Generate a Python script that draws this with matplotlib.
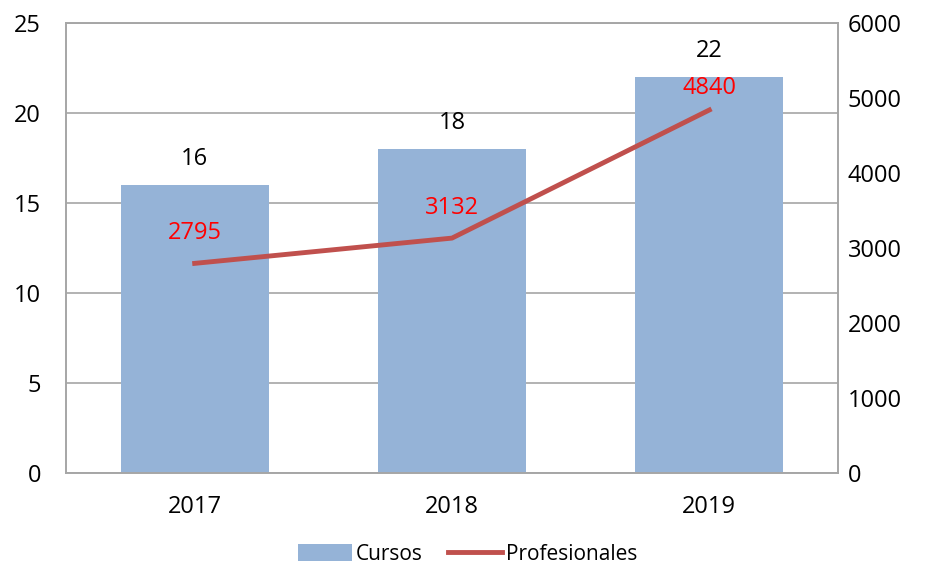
import matplotlib
matplotlib.use("Agg")
import matplotlib.pyplot as plt
import numpy as np
from matplotlib.lines import Line2D
from matplotlib.patches import Patch

years = ["2017", "2018", "2019"]
cursos = [16, 18, 22]
profesionales = [2795, 3132, 4840]

plt.rcParams["font.family"] = ["Open Sans", "DejaVu Sans"]

fig = plt.figure(figsize=(9.35, 5.71), dpi=100)
ax = fig.add_axes([66 / 935, 1 - 473 / 571, (838 - 66) / 935, (473 - 23) / 571])
ax2 = ax.twinx()

x = np.arange(len(years))
bar_color = "#95B3D7"
line_color = "#C0504D"
grid_color = "#A6A6A6"

ax.bar(x, cursos, width=0.575, color=bar_color, zorder=2)
ax.set_ylim(0, 25)
ax.set_yticks(range(0, 26, 5))
ax.set_xlim(-0.5, 2.5)
ax.set_xticks(x)
ax.set_xticklabels(years)
ax.yaxis.grid(True, color=grid_color, linewidth=1.2, zorder=0)
ax.set_axisbelow(True)
for v, xi in zip(cursos, x):
    ax.annotate(str(v), (xi, v), xytext=(0, 10), textcoords="offset points",
                ha="center", va="bottom", fontsize=17, color="#000000")

ax2.plot(x, profesionales, color=line_color, linewidth=3.5, zorder=3)
ax2.set_ylim(0, 6000)
ax2.set_yticks(range(0, 6001, 1000))
# label offsets above the points (points), as placed in the original
lab_dy = [13, 13, 7]
for v, xi, dy in zip(profesionales, x, lab_dy):
    ax2.annotate(str(v), (xi, v), xytext=(0, dy), textcoords="offset points",
                 ha="center", va="bottom", fontsize=17, color="#FF0000")

for a in (ax, ax2):
    for s in a.spines.values():
        s.set_color(grid_color)
        s.set_linewidth(1.2)
    a.tick_params(length=0, labelsize=17, colors="#000000")
ax.tick_params(axis="x", pad=16)
ax.tick_params(axis="y", pad=18)
ax2.tick_params(axis="y", pad=7)

handles = [Patch(facecolor=bar_color, label="Cursos"),
           Line2D([0], [0], color=line_color, linewidth=3.5, label="Profesionales")]
fig.legend(handles=handles, loc="lower center", ncol=2, frameon=False,
           fontsize=15, bbox_to_anchor=(0.5, -0.022), handlelength=2.6,
           handleheight=0.9, columnspacing=1.2, handletextpad=0.2)

fig.savefig("out.png", dpi=100)
